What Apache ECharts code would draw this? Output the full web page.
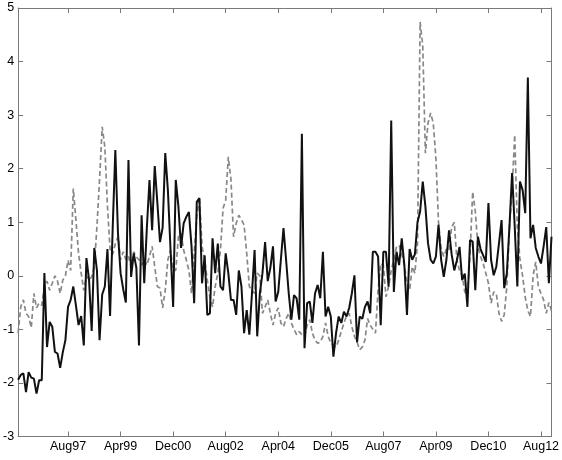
<!DOCTYPE html>
<html>
<head>
<meta charset="utf-8">
<script src="https://cdn.jsdelivr.net/npm/echarts@6/dist/echarts.min.js"></script>
<style>html,body{margin:0;padding:0;background:#fff}#c{width:562px;height:460px}</style>
</head>
<body>
<div id="c"></div>
<script>
// Monthly observations, Jan 1996 .. Dec 2012
const startYear = 1996;
const monthNames = ['Jan','Feb','Mar','Apr','May','Jun','Jul','Aug','Sep','Oct','Nov','Dec'];
const tickLabels = ['Aug97','Apr99','Dec00','Aug02','Apr04','Dec05','Aug07','Apr09','Dec10','Aug12'];
const yTicks = [-3,-2,-1,0,1,2,3,4,5];

const solidSeries = [
-1.94,-1.85,-1.82,-2.17,-1.8,-1.9,-1.92,-2.2,-1.95,-1.95,
0.05,-1.33,-0.86,-0.95,-1.42,-1.45,-1.72,-1.43,-1.2,-0.58,
-0.45,-0.2,-0.55,-0.92,-0.75,-1.3,0.33,-0.08,-1.03,0.52,
0.1,-1.2,-0.35,-0.2,0.5,-0.75,0.9,2.35,0.8,0.05,
-0.25,-0.5,2.16,-0.02,0.42,0.15,-1.3,1.13,-0.14,0.9,
1.79,0.85,2.05,1.36,0.63,0.9,2.29,1.6,0.5,-0.58,
1.79,1.3,0.52,0.98,1.1,1.19,0.55,-0.51,1.38,1.45,
-0.14,0.38,-0.73,-0.7,0.7,0.05,0.6,-0.2,-0.27,0.42,
0.05,-0.45,-0.45,-0.73,0.1,-0.2,-1.07,-0.64,-1.1,-0.33,
0.48,-1.13,-0.33,0.05,0.63,-0.1,0.15,0.55,-0.48,-0.3,
0.3,0.89,0.29,-0.33,-0.82,-0.36,-0.42,-0.82,2.65,-1.35,
-0.51,-0.48,-0.88,-0.33,-0.17,-0.42,0.45,-0.76,-0.58,-0.76,
-1.51,-1.07,-0.76,-0.88,-0.67,-0.76,-0.6,-0.33,0.01,-1.24,
-0.76,-0.8,-0.58,-0.48,-0.7,0.45,0.45,0.36,-0.92,0.45,
0.45,-0.2,2.9,-0.3,0.45,0.2,0.7,0.2,-0.73,0.5,
0.3,0.4,1.0,1.2,1.76,1.3,0.61,0.3,0.23,0.36,
0.95,0.3,-0.02,0.3,0.85,0.4,0.1,0.29,0.54,-0.08,
0.04,-0.58,0.67,0.64,-0.27,0.73,0.5,0.38,0.26,1.36,
0.3,0.01,0.17,0.6,1.04,-0.23,0.05,0.92,1.92,0.92,
-0.2,1.76,1.6,1.17,3.7,0.7,0.95,0.52,0.36,0.23,
0.55,0.91,-0.14,0.73
];

const dashedSeries = [
-1.07,-0.58,-0.45,-0.7,-0.76,-0.97,-0.33,-0.6,-0.51,-0.55,
-0.2,-0.1,-0.27,-0.14,0,-0.1,-0.33,-0.08,0,0.29,
0.1,1.63,1.04,0.42,0.05,-0.27,0,-0.08,-0.02,0.17,
0.92,1.8,2.78,2.41,1.3,0.5,0.4,0.6,0.73,0.3,
0.45,0.3,0.36,0.17,0.45,0.35,0.3,0.2,0.3,0.2,
0.36,0.55,0.17,-0.2,-0.23,-0.6,-0.27,0.3,0.48,0.1,
0.1,0.73,0.79,0.48,0.3,0.1,-0.33,0.42,1.1,1.47,
0.55,0.3,-0.08,-0.4,-0.58,-0.2,0.05,0.48,1.26,1.41,
2.22,1.8,0.73,0.98,1.13,1.05,0.95,0.42,-0.2,-0.27,
-0.33,0.05,0,-0.7,-0.58,-0.45,-0.7,-0.92,-0.7,-0.6,
-0.88,-0.95,-0.8,-0.7,-0.88,-1.0,-1.1,-1.04,-1.1,-1.13,
-0.92,-0.82,-1.07,-1.2,-1.26,-1.24,-1.13,-0.88,-1.13,-1.25,
-1.3,-1.33,-1.2,-1.04,-0.88,-0.75,-0.7,-0.95,-1.13,-1.24,
-1.38,-1.33,-1.2,-0.8,-0.92,-1.0,-1.07,-0.27,0.23,0.2,
-0.39,-0.2,0.1,0.3,0.54,0.57,0.4,0.2,-0.14,-0.27,
0.17,0.05,0.6,4.74,4.3,2.29,2.85,3.04,2.85,2.2,
1.0,0.5,0.36,0.5,0.48,0.91,1.0,0.3,0.1,0.0,
-0.3,-0.36,0.4,1.57,1.2,0.55,0.36,0.23,0.05,-0.14,
-0.51,-0.3,-0.33,-0.7,-0.85,-0.73,-0.2,0.9,1.6,2.63,
0.9,0.3,0.0,-0.4,-0.65,-0.76,0.0,0.26,-0.2,-0.33,
-0.45,-0.7,-0.5,-0.65
];

function labelToIndex(s) {
  const mon = monthNames.indexOf(s.slice(0,3));
  const yy = parseInt(s.slice(3), 10);
  const yr = (yy < 50 ? 2000 : 1900) + yy;
  return (yr - startYear) * 12 + mon;
}
const tickValues = tickLabels.map(labelToIndex);
const labelMap = {};
tickLabels.forEach((l, i) => { labelMap[tickValues[i]] = l; });

const nMonths = solidSeries.length;
const solidData = solidSeries.map((v, i) => [i, v]);
const dashedData = dashedSeries.map((v, i) => [i, v]);

const axisColor = '#7a7a7a';
const font = 'Liberation Sans, Arial, sans-serif';

const chart = echarts.init(document.getElementById('c'), null, {renderer: 'canvas'});
chart.setOption({
  animation: false,
  backgroundColor: '#ffffff',
  grid: {left: 15, right: 6, top: 8, bottom: 23.5, containLabel: false},
  xAxis: [{
    type: 'value', min: 0, max: nMonths - 1, position: 'bottom',
    axisLine: {show: true, onZero: false, lineStyle: {color: axisColor, width: 1}},
    axisTick: {show: true, inside: true, length: 5, customValues: tickValues, lineStyle: {color: axisColor}},
    axisLabel: {show: true, customValues: tickValues, margin: 4, color: '#000', fontFamily: font, fontSize: 12.5,
      hideOverlap: false, formatter: v => labelMap[v] || ''},
    splitLine: {show: false}
  }, {
    type: 'value', min: 0, max: nMonths - 1, position: 'top',
    axisLine: {show: true, onZero: false, lineStyle: {color: axisColor, width: 1}},
    axisTick: {show: true, inside: true, length: 5, customValues: tickValues, lineStyle: {color: axisColor}},
    axisLabel: {show: false},
    splitLine: {show: false}
  }],
  yAxis: [{
    type: 'value', min: yTicks[0], max: yTicks[yTicks.length - 1], interval: 1, position: 'left',
    axisLine: {show: true, onZero: false, lineStyle: {color: axisColor, width: 1}},
    axisTick: {show: true, inside: true, length: 5, lineStyle: {color: axisColor}},
    axisLabel: {show: true, margin: 4, color: '#000', fontFamily: font, fontSize: 12.5},
    splitLine: {show: false}
  }, {
    type: 'value', min: yTicks[0], max: yTicks[yTicks.length - 1], interval: 1, position: 'right',
    axisLine: {show: true, onZero: false, lineStyle: {color: axisColor, width: 1}},
    axisTick: {show: true, inside: true, length: 5, lineStyle: {color: axisColor}},
    axisLabel: {show: false},
    splitLine: {show: false}
  }],
  series: [{
    type: 'line', data: dashedData, xAxisIndex: 0, yAxisIndex: 0,
    showSymbol: false, symbol: 'none', smooth: false,
    lineStyle: {color: '#888888', width: 1.7, type: [5, 3]}
  }, {
    type: 'line', data: solidData, xAxisIndex: 0, yAxisIndex: 0,
    showSymbol: false, symbol: 'none', smooth: false,
    lineStyle: {color: '#111111', width: 2}
  }]
});
</script>
</body>
</html>
